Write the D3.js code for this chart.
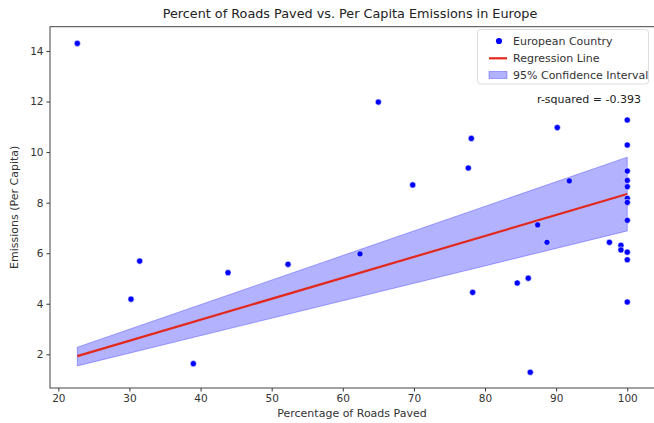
<!DOCTYPE html>
<html><head><meta charset="utf-8">
<script src="https://cdn.jsdelivr.net/npm/d3@7"></script>
<style>
html,body{margin:0;padding:0;background:#fff;}
svg{display:block;font-family:"DejaVu Sans",sans-serif;}
</style></head>
<body>
<svg id="chart" width="654" height="423"></svg>
<script>
const pavedPct = [22.67,31.44,30.22,43.86,52.30,38.98,65.0,78.07,77.65,69.83,62.42,78.26,
  100,90.16,100,100,91.85,100,100,100,100,100,87.40,88.71,97.49,99.11,99.11,100,100,86.08,84.53,100,86.36];
const emissions = [14.30,5.69,4.18,5.23,5.56,1.63,11.98,10.54,9.37,8.70,5.97,4.45,
  11.27,10.97,10.28,9.25,8.86,8.88,8.63,8.17,8.01,7.30,7.12,6.43,6.43,6.31,6.13,6.04,5.74,5.01,4.82,4.07,1.29];
const fitX = [22.67, 100];
const fitY = [1.93, 8.34];
const ciLow = [1.54, 6.88];
const ciHigh = [2.28, 9.80];
const xTicks = [20,30,40,50,60,70,80,90,100];
const yTicks = [2,4,6,8,10,12,14];
const rSquaredText = "r-squared = -0.393";

const svg = d3.select("#chart");
const L = 50, R = 656, T = 26.7, B = 388;
const x = d3.scaleLinear().domain([18.83, 104.04]).range([L, R]);
const y = d3.scaleLinear().domain([0.667, 14.96]).range([B, T]);

// CI band
const band = fitX.map((v,i)=>({x:v, lo:ciLow[i], hi:ciHigh[i]}));
svg.append("path").datum(band)
  .attr("d", d3.area().x(d=>x(d.x)).y0(d=>y(d.lo)).y1(d=>y(d.hi)))
  .attr("fill","rgba(0,0,255,0.3)").attr("stroke","rgba(0,0,255,0.3)").attr("stroke-width",1);

// regression line
svg.append("path").datum(fitX.map((v,i)=>[v,fitY[i]]))
  .attr("d", d3.line().x(d=>x(d[0])).y(d=>y(d[1])))
  .attr("fill","none").attr("stroke","#e3281c").attr("stroke-width",2.2);

// points
svg.append("g").selectAll("circle").data(pavedPct.map((v,i)=>[v,emissions[i]])).join("circle")
  .attr("cx",d=>x(d[0])).attr("cy",d=>y(d[1])).attr("r",3.1)
  .attr("fill","#0000ff").attr("stroke","#fff").attr("stroke-width",0.6);

// axes
const xAxis = svg.append("g").attr("transform",`translate(0,${B})`)
  .call(d3.axisBottom(x).tickValues(xTicks).tickSize(3.5).tickPadding(3).tickFormat(d3.format("d")));
const yAxis = svg.append("g").attr("transform",`translate(${L},0)`)
  .call(d3.axisLeft(y).tickValues(yTicks).tickSize(3.5).tickPadding(3).tickFormat(d3.format("d")));
[xAxis,yAxis].forEach(g=>{
  g.select(".domain").remove();
  g.selectAll("line").attr("stroke","#333");
  g.selectAll("text").attr("fill","#333").style("font-size","10.5px").style("font-family","DejaVu Sans");
});
// spines
svg.append("rect").attr("x",L).attr("y",T).attr("width",R-L).attr("height",B-T)
  .attr("fill","none").attr("stroke","#444").attr("stroke-width",1);

// labels
svg.append("text").attr("x",350).attr("y",18).attr("text-anchor","middle")
  .style("font-size","12.8px").attr("fill","#222").text("Percent of Roads Paved vs. Per Capita Emissions in Europe");
svg.append("text").attr("x",352).attr("y",417).attr("text-anchor","middle")
  .style("font-size","11px").attr("fill","#333").text("Percentage of Roads Paved");
svg.append("text").attr("transform",`translate(18,${(T+B)/2}) rotate(-90)`).attr("text-anchor","middle")
  .style("font-size","11px").attr("fill","#333").text("Emissions (Per Capita)");

// legend
const lg = svg.append("g");
lg.append("rect").attr("x",477.5).attr("y",29.5).attr("width",171).attr("height",54.5).attr("rx",3)
  .attr("fill","#fff").attr("fill-opacity",0.85).attr("stroke","#ddd");
const items = ["European Country","Regression Line","95% Confidence Interval"];
const rows = [41,58.3,75];
lg.append("circle").attr("cx",499).attr("cy",rows[0]).attr("r",3.1).attr("fill","#0000ff");
lg.append("line").attr("x1",489).attr("x2",507).attr("y1",rows[1]).attr("y2",rows[1]).attr("stroke","#e3281c").attr("stroke-width",2.2);
lg.append("rect").attr("x",489).attr("y",rows[2]-3.5).attr("width",18).attr("height",7)
  .attr("fill","rgba(0,0,255,0.3)").attr("stroke","rgba(0,0,255,0.3)");
items.forEach((t,i)=>lg.append("text").attr("x",513).attr("y",rows[i]+4).style("font-size","11px").attr("fill","#333").text(t));
svg.append("text").attr("x",641).attr("y",103).attr("text-anchor","end").style("font-size","11px").attr("fill","#222").text(rSquaredText);
</script>
</body></html>
